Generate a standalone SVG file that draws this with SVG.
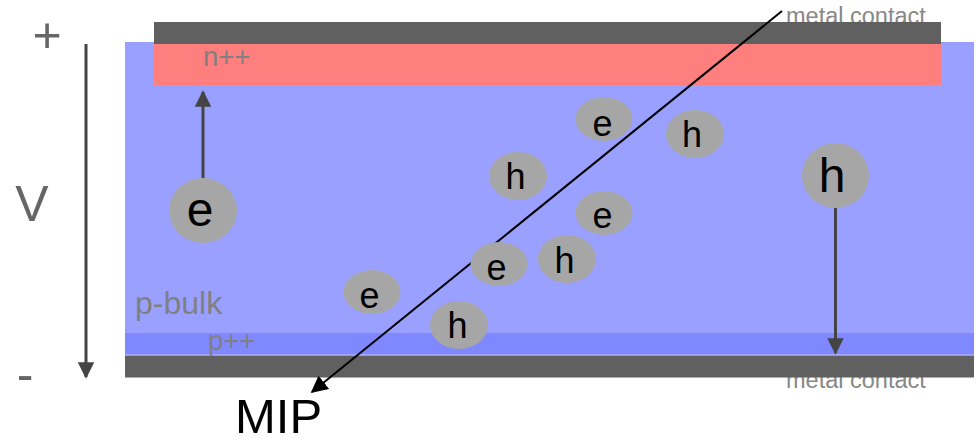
<svg xmlns="http://www.w3.org/2000/svg" width="980" height="439" viewBox="0 0 980 439">
<style>
.lbl{font-family:"Liberation Sans",Arial,sans-serif;}
.car{fill:#a6a6a6;}
.ct{font-family:"Liberation Sans",Arial,sans-serif;fill:#000;text-anchor:middle;font-size:36px;}
.big{font-size:48px;}
.arr{stroke:#444;stroke-width:3;fill:none;}
</style>
<defs>
<marker id="ah" viewBox="0 0 10 10" refX="9" refY="5" markerWidth="5.5" markerHeight="5.5" markerUnits="strokeWidth" orient="auto"><path d="M0,0 L10,5 L0,10 Z" fill="#444"/></marker>
<marker id="ab" viewBox="0 0 10 10" refX="9" refY="5" markerWidth="8.5" markerHeight="8.5" markerUnits="strokeWidth" orient="auto"><path d="M0,0 L10,5 L0,10 Z" fill="#000"/></marker>
</defs>
<rect width="980" height="439" fill="#fff"/>
<g id="metal-labels">
<text class="lbl" x="786" y="388" font-size="23.5" fill="#888">metal contact</text>
<text class="lbl" x="786" y="24" font-size="23.5" fill="#888">metal contact</text>
</g>
<g id="bulk"><rect x="125" y="42" width="849" height="291" fill="#9aa0ff"/></g>
<g id="pplus"><rect x="125" y="333" width="849" height="22" fill="#8088ff"/><line x1="125" y1="355" x2="974" y2="355" stroke="#c0c4ff" stroke-width="1"/></g>
<g id="bottom-metal"><rect x="125" y="355.5" width="849" height="22" fill="#606060"/></g>
<g id="nplus"><rect x="154" y="44" width="787" height="41" fill="#ff7f7f"/></g>
<g id="top-metal"><rect x="154" y="22" width="787" height="22" fill="#606060"/></g>
<g id="labels">
<text class="lbl" x="203" y="66" font-size="27.5" fill="#808080">n++</text>
<text class="lbl" x="135" y="314" font-size="32" fill="#808080">p-bulk</text>
<text class="lbl" x="208" y="350" font-size="27.5" fill="#808080">p++</text>
<text class="lbl" x="47" y="52" font-size="50" fill="#666" text-anchor="middle">+</text>
<text class="lbl" x="25" y="391" font-size="50" fill="#666" text-anchor="middle">-</text>
<text class="lbl" x="32" y="221" font-size="50" fill="#666" text-anchor="middle">V</text>
<text class="lbl" x="235" y="433" font-size="49" fill="#000">MIP</text>
</g>
<g id="connectors">
<line class="arr" x1="86" y1="44" x2="86" y2="377" marker-end="url(#ah)"/>
<line class="arr" x1="203" y1="178" x2="203" y2="92" marker-end="url(#ah)"/>
<line class="arr" x1="835.5" y1="208" x2="835.5" y2="353" marker-end="url(#ah)"/>
<line x1="782" y1="11" x2="312" y2="392" stroke="#000" stroke-width="2" marker-end="url(#ab)"/>
</g>
<g id="e-big"><ellipse class="car" cx="203" cy="210.5" rx="34" ry="32.5"/><text class="ct big" x="200" y="226">e</text></g>
<g id="h-big"><ellipse class="car" cx="835.5" cy="175.5" rx="33.5" ry="32.5"/><text class="ct big" x="832" y="192">h</text></g>
<g id="e1"><ellipse class="car" cx="604" cy="119" rx="28.5" ry="22"/><text class="ct" x="602.5" y="135.5">e</text></g>
<g id="h1"><ellipse class="car" cx="695" cy="134" rx="29" ry="24"/><text class="ct" x="692" y="147">h</text></g>
<g id="h2"><ellipse class="car" cx="518" cy="176" rx="29" ry="24"/><text class="ct" x="515.5" y="189">h</text></g>
<g id="e2"><ellipse class="car" cx="604" cy="213" rx="28.5" ry="22"/><text class="ct" x="602.5" y="228">e</text></g>
<g id="e3"><ellipse class="car" cx="499" cy="264" rx="28.5" ry="22"/><text class="ct" x="496.5" y="280">e</text></g>
<g id="h3"><ellipse class="car" cx="567" cy="259" rx="29" ry="24"/><text class="ct" x="564.5" y="273">h</text></g>
<g id="e4"><ellipse class="car" cx="372" cy="292" rx="28.5" ry="22"/><text class="ct" x="369.5" y="308">e</text></g>
<g id="h4"><ellipse class="car" cx="459" cy="325" rx="29" ry="24"/><text class="ct" x="457.5" y="338">h</text></g>
</svg>
